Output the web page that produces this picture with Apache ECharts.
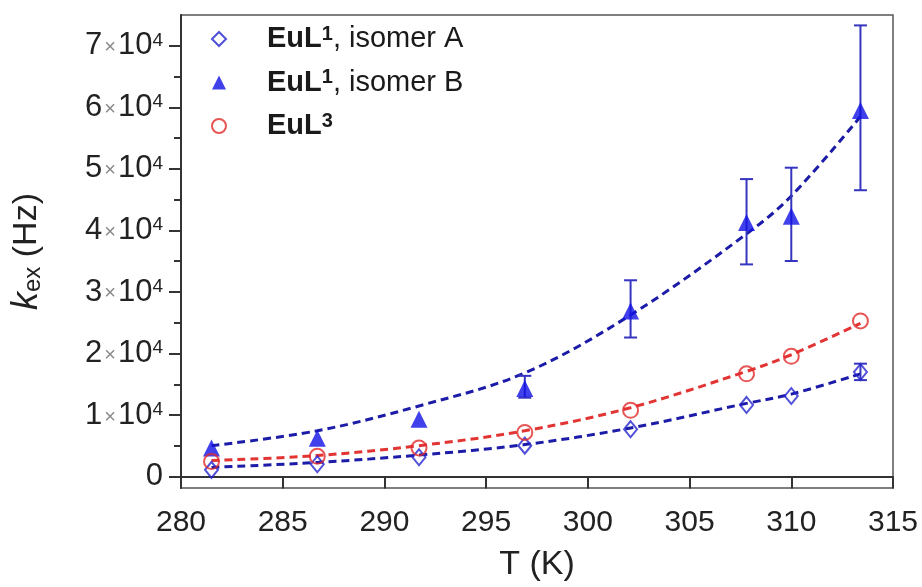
<!DOCTYPE html>
<html>
<head>
<meta charset="utf-8">
<script src="https://cdn.jsdelivr.net/npm/echarts@6/dist/echarts.min.js"></script>
<style>
html, body { margin: 0; padding: 0; background: #fff; }
#chartData { width: 922px; height: 587px; }
</style>
</head>
<body>
<div id="chartData"></div>
<script>
var temps = [281.5, 286.7, 291.7, 296.9, 302.1, 307.8, 310.0, 313.4];
var isomerA = [1100, 2000, 3150, 5030, 7710, 11650, 13100, 17000];
var isomerB = [4650, 6250, 9300, 14300, 26900, 41300, 42300, 59500];
var eul3 = [2450, 3300, 4650, 7180, 10770, 16700, 19550, 25300];
// dashed fit curves
var fitA = [1500, 2300, 3500, 5200, 7900, 11900, 13400, 16700];
var fitB = [5030, 7450, 11480, 16850, 26260, 39430, 45600, 58500];
var fit3 = [2610, 3420, 5030, 7450, 11200, 17100, 19800, 24900];
// error bars: [T, low, high]
var errB = [[296.9, 12820, 16370], [302.1, 22600, 31900], [307.8, 34480, 48340], [310.0, 35030, 50190], [313.4, 46530, 73310]];
var errA = [[313.4, 15680, 18350]];
var yLabelValues = [0, 10000, 20000, 30000, 40000, 50000, 60000, 70000];
var yMinorValues = [5000, 15000, 25000, 35000, 45000, 55000, 65000];

var font = 'Arial, "Liberation Sans", sans-serif';

function pairs(ys) {
  return temps.map(function (t, i) { return [t, ys[i]]; });
}

var myChart = echarts.init(document.getElementById('chartData'));

function errorBar(params, api) {
  var x = api.value(0);
  var lo = api.coord([x, api.value(1)]);
  var hi = api.coord([x, api.value(2)]);
  var w = 6.5;
  var style = { stroke: '#3535c0', lineWidth: 2 };
  return {
    type: 'group',
    children: [
      { type: 'line', shape: { x1: lo[0], y1: lo[1], x2: hi[0], y2: hi[1] }, style: style },
      { type: 'line', shape: { x1: lo[0] - w, y1: lo[1], x2: lo[0] + w, y2: lo[1] }, style: style },
      { type: 'line', shape: { x1: hi[0] - w, y1: hi[1], x2: hi[0] + w, y2: hi[1] }, style: style }
    ]
  };
}

var legendText = {
  'EuL1, isomer A': '{b|EuL}{s|1}{t|, isomer A}',
  'EuL1, isomer B': '{b|EuL}{s|1}{t|, isomer B}',
  'EuL3': '{b|EuL}{s|3}'
};

var fitLine = function (data, color) {
  return {
    type: 'line',
    data: pairs(data),
    smooth: 0.35,
    symbol: 'none',
    silent: true,
    z: 1,
    lineStyle: { color: color, width: 3, type: [8, 5] }
  };
};

var option = {
  animation: false,
  textStyle: { fontFamily: font },
  grid: {
    left: 181, right: 29, top: 15, bottom: 96,
    show: true, borderColor: '#555', borderWidth: 1.5
  },
  legend: {
    orient: 'vertical',
    left: 206,
    top: 19,
    itemWidth: 14,
    itemHeight: 14,
    itemGap: 14,
    data: ['EuL1, isomer A', 'EuL1, isomer B', 'EuL3'],
    formatter: function (name) { return legendText[name]; },
    textStyle: {
      color: '#1a1a1a',
      rich: {
        b: { fontSize: 29, fontWeight: 'bold', fontFamily: font, padding: [0, 0, 0, 36], lineHeight: 30 },
        s: { fontSize: 20, fontWeight: 'bold', fontFamily: font, verticalAlign: 'top', lineHeight: 16 },
        t: { fontSize: 29, fontFamily: font, lineHeight: 30 }
      }
    }
  },
  xAxis: {
    type: 'value',
    min: 280, max: 315, interval: 5,
    name: 'T (K)',
    nameLocation: 'middle',
    nameGap: 60,
    nameTextStyle: { fontSize: 34, color: '#222', fontFamily: font },
    axisLine: { lineStyle: { color: '#333', width: 2 } },
    axisTick: { show: true, length: 12, inside: false, lineStyle: { color: '#333', width: 2 } },
    axisLabel: { fontSize: 30, color: '#222', margin: 20 },
    splitLine: { show: false }
  },
  yAxis: [
    {
      type: 'value',
      min: -1850, max: 75000,
      name: '{k|k}{e|ex}{h| (Hz)}',
      nameLocation: 'middle',
      nameRotate: 90,
      nameGap: 136,
      nameTextStyle: {
        color: '#222',
        rich: {
          k: { fontSize: 36, fontStyle: 'italic', fontFamily: font, lineHeight: 36 },
          e: { fontSize: 24, fontFamily: font, verticalAlign: 'bottom', lineHeight: 24 },
          h: { fontSize: 34, fontFamily: font, lineHeight: 36 }
        }
      },
      axisLine: { show: true, lineStyle: { color: '#333', width: 2 } },
      axisTick: { show: true, length: 12, customValues: yLabelValues, lineStyle: { color: '#333', width: 2 } },
      axisLabel: {
        customValues: yLabelValues,
        margin: 18,
        color: '#222',
        formatter: function (v) {
          if (v === 0) return '{n|0}';
          return '{n|' + (v / 10000) + '}{x|×}{n|10}{s|4}';
        },
        rich: {
          n: { fontSize: 31, color: '#222', fontFamily: font, lineHeight: 30 },
          x: { fontSize: 20, color: '#888', fontFamily: font, lineHeight: 30, padding: [4, 2, 0, 2] },
          s: { fontSize: 19, color: '#222', fontFamily: font, verticalAlign: 'top', lineHeight: 18 }
        }
      },
      splitLine: { show: false }
    },
    {
      type: 'value',
      min: -1850, max: 75000,
      position: 'left',
      axisLine: { show: false },
      axisTick: { show: true, length: 7, customValues: yMinorValues, lineStyle: { color: '#333', width: 2 } },
      axisLabel: { show: false },
      splitLine: { show: false }
    }
  ],
  series: [
    fitLine(fitB, '#1c1ca8'),
    fitLine(fit3, '#e33434'),
    fitLine(fitA, '#1c1ca8'),
    {
      type: 'custom',
      renderItem: errorBar,
      data: errB.concat(errA),
      encode: { x: 0, y: [1, 2] },
      z: 3,
      silent: true
    },
    {
      name: 'EuL1, isomer A',
      type: 'scatter',
      symbol: 'diamond',
      symbolSize: [13, 16],
      data: pairs(isomerA),
      z: 4,
      itemStyle: { color: 'rgba(255,255,255,0)', borderColor: '#2424d0', borderWidth: 2 }
    },
    {
      name: 'EuL1, isomer B',
      type: 'scatter',
      symbol: 'triangle',
      symbolSize: 17,
      data: pairs(isomerB),
      z: 4,
      itemStyle: { color: '#1212e6' }
    },
    {
      name: 'EuL3',
      type: 'scatter',
      symbol: 'circle',
      symbolSize: 15,
      data: pairs(eul3),
      z: 4,
      itemStyle: { color: 'rgba(255,255,255,0)', borderColor: '#e22a2a', borderWidth: 2 }
    }
  ]
};

myChart.setOption(option, true);
</script>
</body>
</html>
